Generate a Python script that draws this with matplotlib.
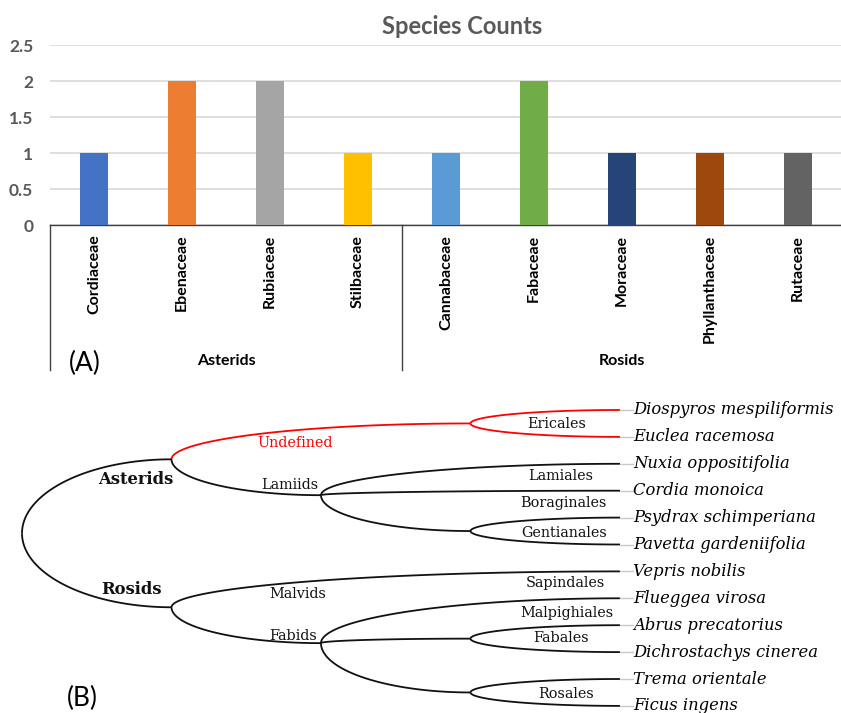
import numpy as np
import matplotlib
matplotlib.use("Agg")
import matplotlib.pyplot as plt

W, H = 841, 713

# ---------------- data: panel A ----------------
families = ["Cordiaceae", "Ebenaceae", "Rubiaceae", "Stilbaceae",
            "Cannabaceae", "Fabaceae", "Moraceae", "Phyllanthaceae", "Rutaceae"]
counts = [1, 2, 2, 1, 1, 2, 1, 1, 1]
groups = ["Asterids", "Rosids"]
group_sizes = [4, 5]
bar_colors = ["#4472C4", "#ED7D31", "#A5A5A5", "#FFC000",
              "#5B9BD5", "#70AD47", "#264478", "#9E480E", "#636363"]
yticks = [0, 0.5, 1, 1.5, 2, 2.5]

# ---------------- data: panel B (tree) ----------------
leaves = ["Diospyros mespiliformis", "Euclea racemosa", "Nuxia oppositifolia",
          "Cordia monoica", "Psydrax schimperiana", "Pavetta gardeniifolia",
          "Vepris nobilis", "Flueggea virosa", "Abrus precatorius",
          "Dichrostachys cinerea", "Trema orientale", "Ficus ingens"]
clade_names = ["Ericales", "Gentianales", "Lamiids", "Asterids",
               "Fabales", "Rosales", "Fabids", "Rosids", "root"]
clade_children = [
    ["Diospyros mespiliformis", "Euclea racemosa"],
    ["Psydrax schimperiana", "Pavetta gardeniifolia"],
    ["Nuxia oppositifolia", "Cordia monoica", "Gentianales"],
    ["Ericales", "Lamiids"],
    ["Abrus precatorius", "Dichrostachys cinerea"],
    ["Trema orientale", "Ficus ingens"],
    ["Flueggea virosa", "Fabales", "Rosales"],
    ["Vepris nobilis", "Fabids"],
    ["Asterids", "Rosids"],
]
red_edges = [("Asterids", "Ericales"),
             ("Ericales", "Diospyros mespiliformis"),
             ("Ericales", "Euclea racemosa")]

# ---------------- figure ----------------
fig = plt.figure(figsize=(W / 100, H / 100), dpi=100)
sans = ["Lato", "DejaVu Sans"]
serif = ["DejaVu Serif"]

def px(x, y):
    return x / W, 1 - y / H

# ---- Panel A ----
ax = fig.add_axes([50 / W, 1 - 225 / H, 792 / W, 180 / H])
xpos = np.arange(len(families))
ax.bar(xpos, counts, width=0.32, color=bar_colors, zorder=3)
ax.set_xlim(-0.5, len(families) - 0.5)
ax.set_ylim(0, 2.5)
ax.set_yticks(yticks)
ax.set_yticklabels([f"{v:g}" for v in yticks], fontfamily=sans,
                   fontweight="bold", fontsize=12.5, color="#595959")
ax.set_xticks(xpos)
ax.set_xticklabels(families, rotation=90, fontfamily=sans,
                   fontweight="bold", fontsize=11.5, color="black")
ax.tick_params(axis="y", length=0, pad=12)
ax.tick_params(axis="x", length=0, pad=7)
ax.grid(axis="y", color="#d9d9d9", lw=1.2, zorder=0)
ax.set_axisbelow(True)
for s in ["top", "left", "right"]:
    ax.spines[s].set_visible(False)
ax.spines["bottom"].set_color("#404040")
ax.spines["bottom"].set_linewidth(1.0)

trans = ax.get_xaxis_transform()
bounds = np.concatenate([[0], np.cumsum(group_sizes)]) - 0.5
sep_bottom = -(370 - 225) / 180
for b in bounds:
    ax.plot([b, b], [0, sep_bottom], color="#404040", lw=1.0,
            transform=trans, clip_on=False)
for g, lo, hi in zip(groups, bounds[:-1], bounds[1:]):
    ax.text((lo + hi) / 2, -(361 - 225) / 180, g, transform=trans,
            ha="center", va="center", fontfamily=sans, fontweight="bold",
            fontsize=11.5)

fig.text(*px(462, 27), "Species Counts", ha="center", va="center",
         fontfamily=sans, fontweight="bold", fontsize=17, color="#595959")
fig.text(*px(85, 363), "(A)", ha="center", va="center",
         fontfamily=sans, fontsize=19)

# ---- Panel B ----
axT = fig.add_axes([0, 0, 1, (H - 390) / H])
x0p, dxp = 22, 149.5
y0p, dyp = 410, 26.9
axT.set_xlim((0 - x0p) / dxp, (W - x0p) / dxp)
axT.set_ylim((H - y0p) / dyp, (390 - y0p) / dyp)
axT.axis("off")

ypos = {name: float(i) for i, name in enumerate(leaves)}
height = {name: 0 for name in leaves}
for name, ch in zip(clade_names, clade_children):
    ypos[name] = float(np.mean([ypos[c] for c in ch]))
    height[name] = 1 + max(height[c] for c in ch)
hmax = height["root"]
xnode = {n: hmax - h for n, h in height.items()}

t = np.linspace(0, np.pi / 2, 80)
for name, ch in zip(clade_names, clade_children):
    px0, py0 = xnode[name], ypos[name]
    for c in ch:
        cx, cy = xnode[c], ypos[c]
        xs = cx - (cx - px0) * np.cos(t)
        ys = py0 + (cy - py0) * np.sin(t)
        col = "#ff0000" if (name, c) in red_edges else "#111111"
        axT.plot(xs, ys, color=col, lw=1.3, solid_capstyle="butt")

conn = 13 / dxp
for name in leaves:
    axT.plot([hmax, hmax + conn], [ypos[name]] * 2, color="#c8c8c8", lw=1.0)
    axT.text(hmax + conn, ypos[name], name, ha="left", va="center",
             fontfamily=serif, fontstyle="italic", fontsize=11.8)

node_labels = [
    ("Undefined", 295, 443, "normal", "#ff0000", 10.4),
    ("Asterids", 136, 479, "bold", "#111111", 11.8),
    ("Lamiids", 289.5, 485, "normal", "#111111", 10.4),
    ("Rosids", 131, 590, "bold", "#111111", 11.8),
    ("Malvids", 298, 594, "normal", "#111111", 10.4),
    ("Fabids", 293, 636, "normal", "#111111", 10.4),
    ("Ericales", 557, 424, "normal", "#111111", 10.4),
    ("Lamiales", 561, 476, "normal", "#111111", 10.4),
    ("Boraginales", 563, 503, "normal", "#111111", 10.4),
    ("Gentianales", 564, 533, "normal", "#111111", 10.4),
    ("Sapindales", 565.5, 583, "normal", "#111111", 10.4),
    ("Malpighiales", 567, 613, "normal", "#111111", 10.4),
    ("Fabales", 561, 638, "normal", "#111111", 10.4),
    ("Rosales", 566, 694, "normal", "#111111", 10.4),
]
for txt, x, y, w, c, fs in node_labels:
    fig.text(*px(x, y), txt, ha="center", va="center", fontfamily=serif,
             fontweight=w, color=c, fontsize=fs)

fig.text(*px(82.5, 698), "(B)", ha="center", va="center",
         fontfamily=sans, fontsize=19)

fig.savefig("out.png", dpi=100)
